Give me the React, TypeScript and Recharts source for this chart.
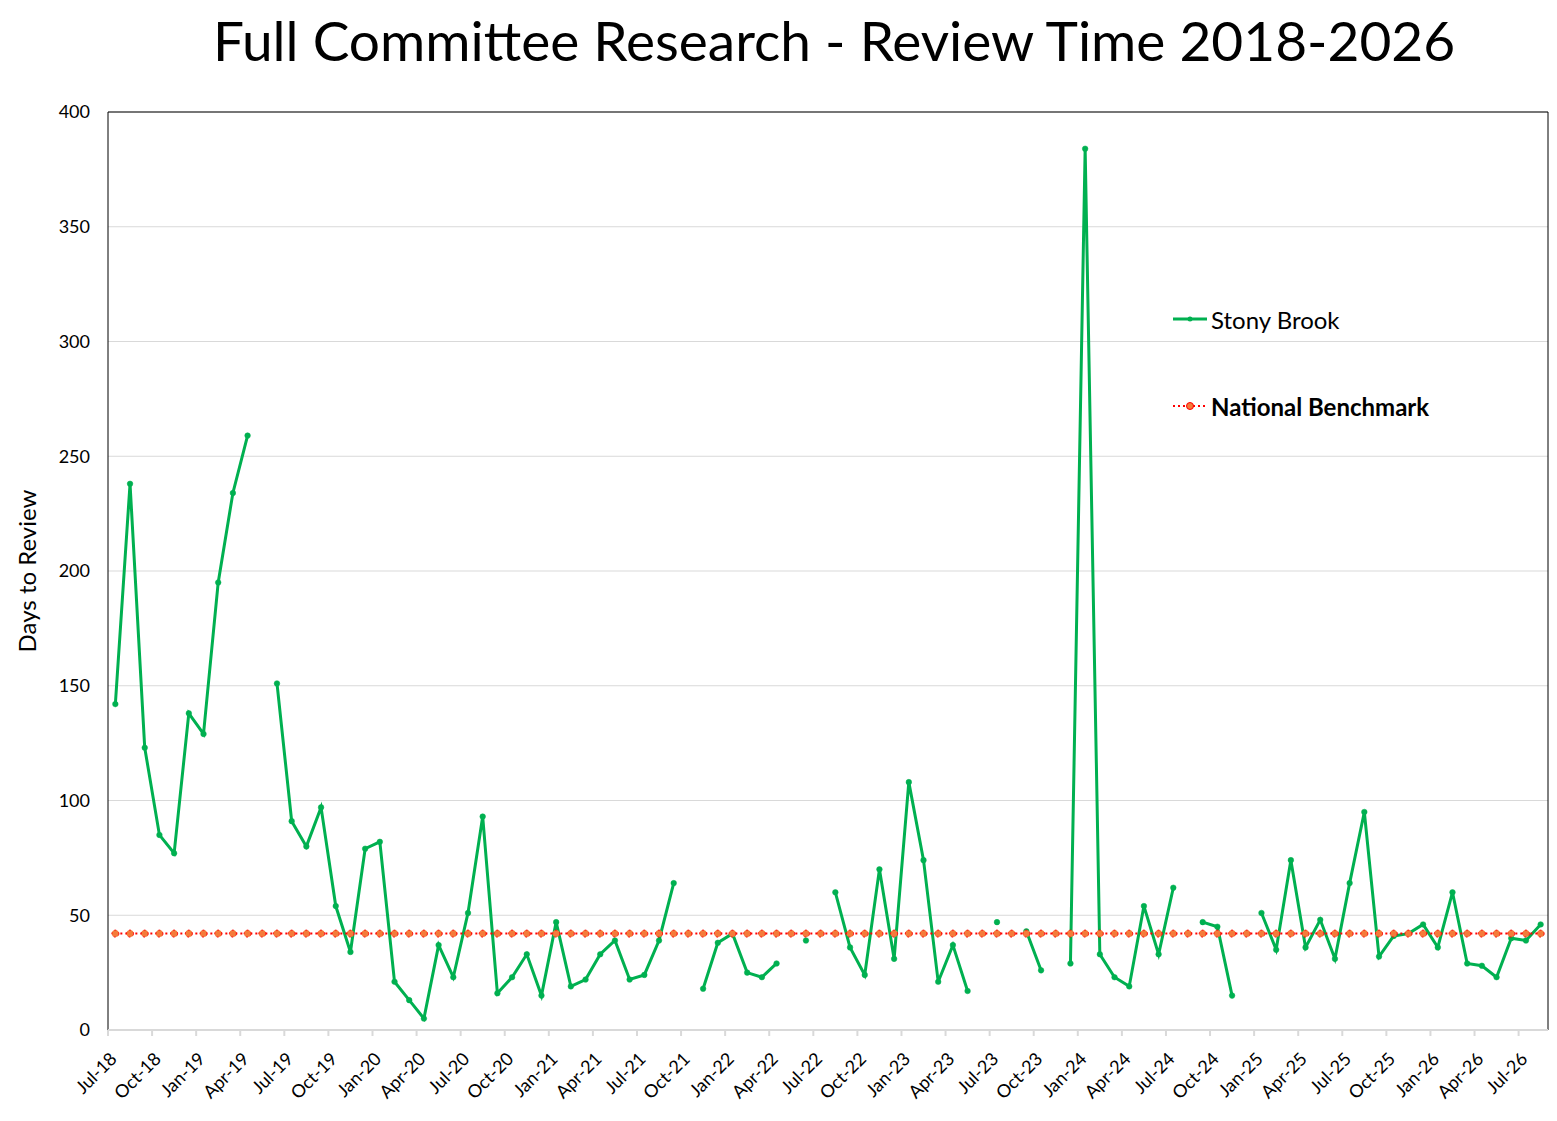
import { LineChart, Line, XAxis, YAxis, CartesianGrid, ReferenceLine, Legend } from "recharts";

// quarterly tick labels, one every 3 months starting Jul-18
const TICK_LABELS = [
  "Jul-18", "Oct-18", "Jan-19", "Apr-19", "Jul-19", "Oct-19", "Jan-20", "Apr-20", "Jul-20",
  "Oct-20", "Jan-21", "Apr-21", "Jul-21", "Oct-21", "Jan-22", "Apr-22", "Jul-22", "Oct-22",
  "Jan-23", "Apr-23", "Jul-23", "Oct-23", "Jan-24", "Apr-24", "Jul-24", "Oct-24", "Jan-25",
  "Apr-25", "Jul-25", "Oct-25", "Jan-26", "Apr-26", "Jul-26",
];

// days to review, one value per month from Jul-18 to Aug-26 (null = no data)
const STONY_BROOK: (number | null)[] = [
  142, 238, 123, 85, 77, 138, 129, 195, 234, 259, null, 151,
  91, 80, 97, 54, 34, 79, 82, 21, 13, 5, 37, 23,
  51, 93, 16, 23, 33, 15, 47, 19, 22, 33, 39, 22,
  24, 39, 64, null, 18, 38, 42, 25, 23, 29, null, 39,
  null, 60, 36, 24, 70, 31, 108, 74, 21, 37, 17, null,
  47, null, 43, 26, null, 29, 384, 33, 23, 19, 54, 33,
  62, null, 47, 45, 15, null, 51, 35, 74, 36, 48, 31,
  64, 95, 32, 41, 42, 46, 36, 60, 29, 28, 23, 40,
  39, 46,
];

const NATIONAL_BENCHMARK = 42;

const Y_TICKS = [0, 50, 100, 150, 200, 250, 300, 350, 400];
const X_TICKS = TICK_LABELS.map((_, k) => k * 3);

const data = STONY_BROOK.map((v, i) => ({ x: i + 0.5, sb: v, nb: NATIONAL_BENCHMARK }));

const FONT = "Lato, 'Open Sans', sans-serif";
const GREEN = "#00B050";
const RED = "#FF0000";
const ORANGE = "#F47B3A";

function MonthTick(props: any) {
  const { x, y, payload } = props;
  const px = x + 10;
  const py = y + 22;
  return (
    <text
      x={px}
      y={py}
      transform={`rotate(-45 ${px} ${py})`}
      textAnchor="end"
      fontSize={18}
      fontFamily={FONT}
      fill="#000"
    >
      {TICK_LABELS[Math.round(payload.value / 3)]}
    </text>
  );
}

function YTitle(props: any) {
  const { viewBox } = props;
  const cy = viewBox.y + viewBox.height / 2;
  return (
    <text
      x={36}
      y={cy}
      transform={`rotate(-90 36 ${cy})`}
      textAnchor="middle"
      fontSize={24}
      fontFamily={FONT}
      fill="#000"
    >
      Days to Review
    </text>
  );
}

function LegendBox() {
  return (
    <div style={{ fontFamily: FONT, fontSize: 24, color: "#000" }}>
      <div style={{ display: "flex", alignItems: "center", height: 30 }}>
        <svg width={36} height={10}>
          <line x1={1} y1={5} x2={35} y2={5} stroke={GREEN} strokeWidth={3} />
          <circle cx={18} cy={5} r={2.5} fill={GREEN} />
        </svg>
        <span style={{ marginLeft: 3 }}>Stony Brook</span>
      </div>
      <div style={{ display: "flex", alignItems: "center", height: 30, marginTop: 57 }}>
        <svg width={36} height={10}>
          <line x1={1} y1={5} x2={35} y2={5} stroke={RED} strokeWidth={2} strokeDasharray="2 3" />
          <circle cx={18} cy={5} r={3.5} fill={ORANGE} stroke={RED} strokeWidth={1} />
        </svg>
        <span style={{ marginLeft: 3, fontWeight: 700 }}>National Benchmark</span>
      </div>
    </div>
  );
}

export default function App() {
  return (
    <div style={{ position: "absolute", left: 0, top: 0, width: 1557, height: 1121, background: "#fff" }}>
      <div
        style={{
          position: "absolute",
          left: 834,
          top: 13,
          transform: "translateX(-50%)",
          whiteSpace: "nowrap",
          fontFamily: FONT,
          fontSize: 55,
          lineHeight: 1,
          color: "#000",
        }}
      >
        Full Committee Research - Review Time 2018-2026
      </div>
      <LineChart width={1557} height={1121} data={data} margin={{ top: 112, right: 9, bottom: 11, left: 0 }}>
        <CartesianGrid vertical={false} stroke="#d9d9d9" strokeWidth={1} />
        <XAxis
          dataKey="x"
          type="number"
          domain={[0, 98]}
          ticks={X_TICKS}
          interval={0}
          height={80}
          tick={<MonthTick />}
          tickSize={6}
          tickLine={{ stroke: "#d9d9d9", strokeWidth: 2 }}
          axisLine={{ stroke: "#d9d9d9", strokeWidth: 2 }}
        />
        <YAxis
          type="number"
          domain={[0, 400]}
          ticks={Y_TICKS}
          width={108}
          axisLine={false}
          tickLine={false}
          tickMargin={12}
          tick={{ fontSize: 18, fontFamily: FONT, fill: "#000" }}
          label={<YTitle />}
        />
        <ReferenceLine x={0} stroke="#000" strokeWidth={1} />
        <ReferenceLine x={98} stroke="#000" strokeWidth={1} />
        <ReferenceLine y={400} stroke="#000" strokeWidth={1} />
        <Line
          dataKey="sb"
          name="Stony Brook"
          stroke={GREEN}
          strokeWidth={3}
          dot={{ r: 2.8, fill: GREEN, stroke: GREEN, strokeWidth: 0.5 }}
          activeDot={false}
          connectNulls={false}
          isAnimationActive={false}
        />
        <Line
          dataKey="nb"
          name="National Benchmark"
          stroke={RED}
          strokeWidth={2}
          strokeDasharray="2 3"
          dot={{ r: 3.5, fill: ORANGE, stroke: RED, strokeWidth: 1 }}
          activeDot={false}
          isAnimationActive={false}
        />
        <Legend
          layout="vertical"
          align="center"
          verticalAlign="middle"
          wrapperStyle={{ left: 1172, top: 304, width: 340 }}
          content={() => <LegendBox />}
        />
      </LineChart>
    </div>
  );
}
